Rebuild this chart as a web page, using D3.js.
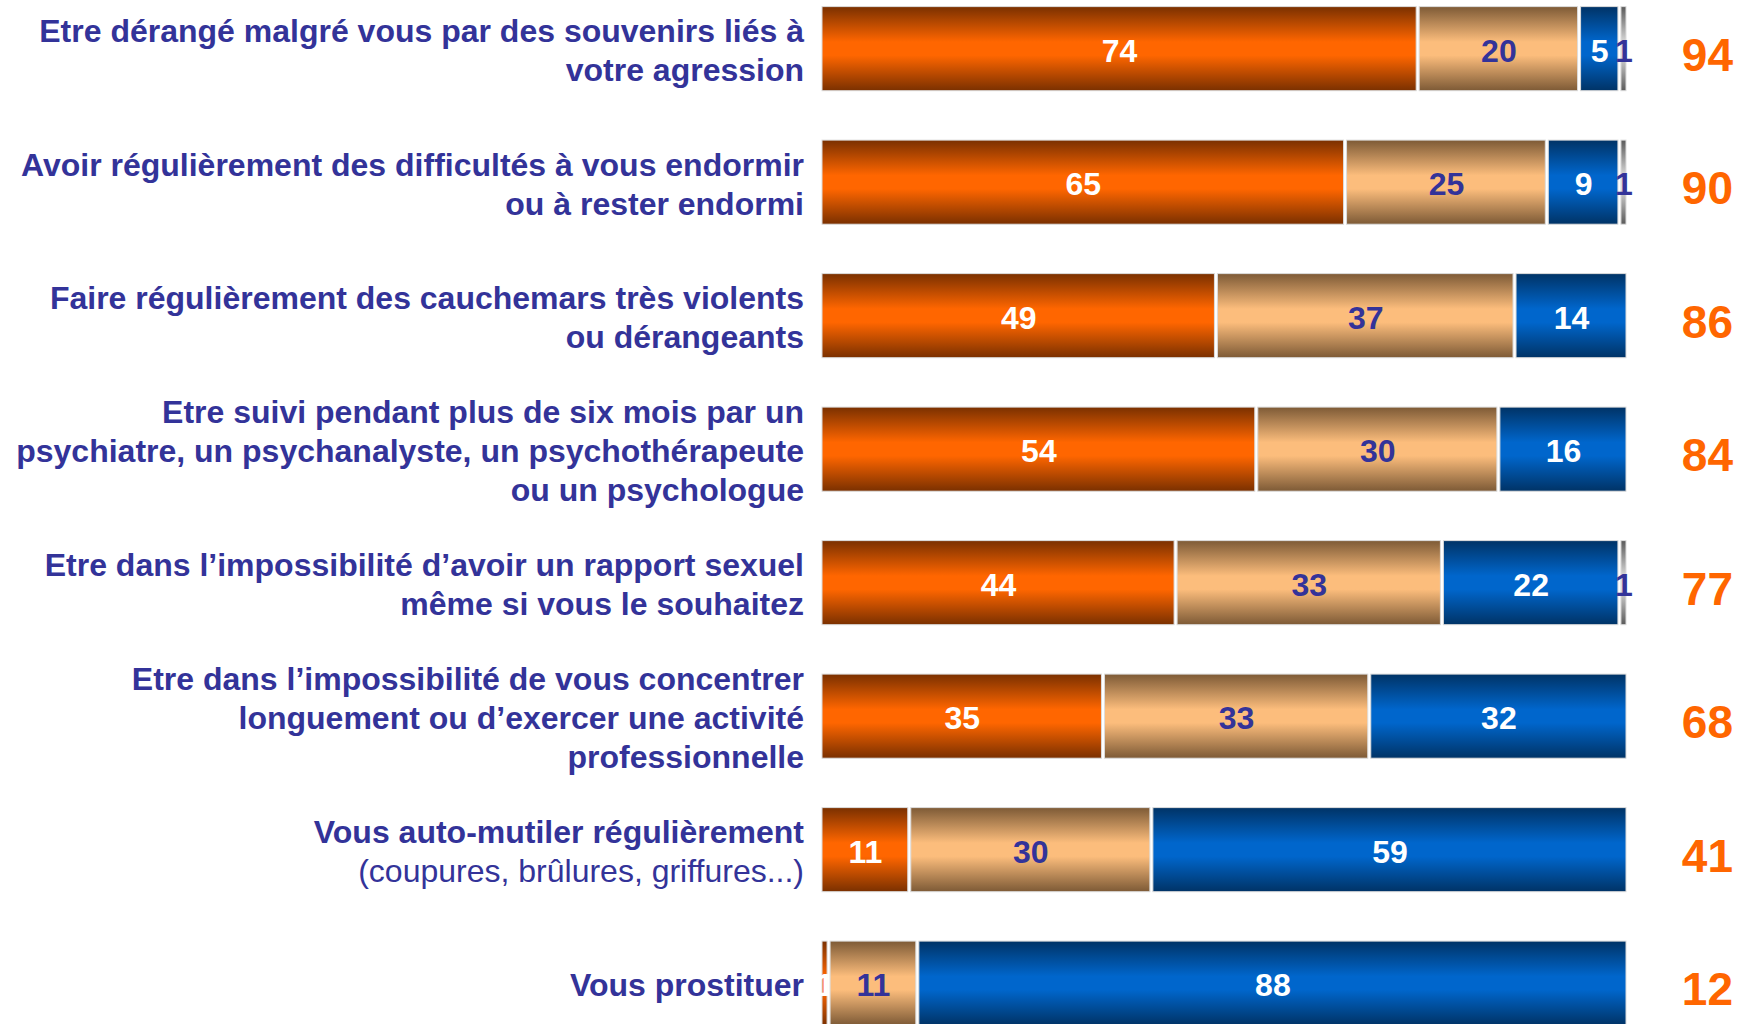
<!DOCTYPE html>
<html lang="fr">
<head>
<meta charset="utf-8" />
<title>Conséquences de l'agression</title>
<script src="https://d3js.org/d3.v7.min.js"></script>
<style>
    body, html {
        margin: 0;
        padding: 0;
        background: #ffffff;
        overflow: hidden;
    }
    svg text {
        font-family: Arial, "Liberation Sans", sans-serif;
    }
</style>
</head>
<body>
<div id="chart"></div>
<script>
    // libellés (une ligne par élément)
    var labels = [
        ["Etre dérangé malgré vous par des souvenirs liés à", "votre agression"],
        ["Avoir régulièrement des difficultés à vous endormir", "ou à rester endormi"],
        ["Faire régulièrement des cauchemars très violents", "ou dérangeants"],
        ["Etre suivi pendant plus de six mois par un", "psychiatre, un psychanalyste, un psychothérapeute", "ou un psychologue"],
        ["Etre dans l’impossibilité d’avoir un rapport sexuel", "même si vous le souhaitez"],
        ["Etre dans l’impossibilité de vous concentrer", "longuement ou d’exercer une activité", "professionnelle"],
        ["Vous auto-mutiler régulièrement", "(coupures, brûlures, griffures...)"],
        ["Vous prostituer"]
    ];

    // séries (en %)
    var serie1 = [74, 65, 49, 54, 44, 35, 11, 1];
    var serie2 = [20, 25, 37, 30, 33, 33, 30, 11];
    var serie3 = [5, 9, 14, 16, 22, 32, 59, 88];
    var serie4 = [1, 1, 0, 0, 1, 0, 0, 0];

    // total (serie1 + serie2) affiché à droite
    var totals = [94, 90, 86, 84, 77, 68, 41, 12];

    var W = 1738, H = 1024;

    var svg = d3.select("#chart")
        .append("svg")
        .attr("width", W)
        .attr("height", H);

    // dégradés verticaux (sombre en haut et en bas, clair au milieu)
    var grads = [
        {id: "g1", dark: "#7a3000", light: "#ff6600"},
        {id: "g2", dark: "#7d5a36", light: "#fcbd7c"},
        {id: "g3", dark: "#003366", light: "#0066cc"},
        {id: "g4", dark: "#5a5a5a", light: "#d8d8d8"}
    ];
    var defs = svg.append("defs");
    grads.forEach(function(g) {
        var lg = defs.append("linearGradient")
            .attr("id", g.id)
            .attr("x1", 0).attr("y1", 0)
            .attr("x2", 0).attr("y2", 1);
        lg.append("stop").attr("offset", "0%").attr("stop-color", g.dark);
        lg.append("stop").attr("offset", "42%").attr("stop-color", g.light);
        lg.append("stop").attr("offset", "58%").attr("stop-color", g.light);
        lg.append("stop").attr("offset", "100%").attr("stop-color", g.dark);
    });

    var x = d3.scaleLinear()
        .domain([0, 100])
        .range([821, 1628]);

    var y = d3.scaleBand()
        .domain(d3.range(labels.length))
        .range([6.6, 1025.2])
        .paddingInner(0.37)
        .paddingOuter(0);

    var series = [serie1, serie2, serie3, serie4];
    var textColors = ["#ffffff", "#333399", "#ffffff", "#333399"];

    var rows = svg.selectAll(".row")
        .data(labels)
        .enter()
        .append("g")
        .attr("class", "row");

    rows.each(function(lab, i) {
        var g = d3.select(this);
        var cy = y(i) + y.bandwidth() / 2;
        var start = 0;

        series.forEach(function(s, k) {
            var v = s[i];
            if (v <= 0) return;
            var x0 = x(start), x1 = x(start + v);
            g.append("rect")
                .attr("x", x0 + 1)
                .attr("y", y(i))
                .attr("width", Math.max(1, x1 - x0 - 3))
                .attr("height", y.bandwidth())
                .attr("fill", "url(#" + grads[k].id + ")")
                .attr("stroke", "#dcdcdc")
                .attr("stroke-width", 1);

            g.append("text")
                .attr("x", (x0 + x1) / 2)
                .attr("y", cy + 13)
                .attr("text-anchor", "middle")
                .style("font-size", "32px")
                .style("font-weight", "bold")
                .attr("fill", textColors[k])
                .text(v);
            start += v;
        });

        // total
        g.append("text")
            .attr("x", 1733)
            .attr("y", cy + 22)
            .attr("text-anchor", "end")
            .style("font-size", "46px")
            .style("font-weight", "bold")
            .attr("fill", "#ff6600")
            .text(totals[i]);

        // libellé
        var lh = 38.8;
        var n = lab.length;
        var t = g.append("text")
            .attr("text-anchor", "end")
            .attr("fill", "#333399")
            .style("font-size", "32px");
        lab.forEach(function(line, j) {
            var normal = (i === 6 && j === 1);
            t.append("tspan")
                .attr("x", 804)
                .attr("y", cy + 2 + (j - (n - 1) / 2) * lh + 11)
                .style("font-weight", normal ? "normal" : "bold")
                .text(line);
        });
    });
</script>
</body>
</html>
